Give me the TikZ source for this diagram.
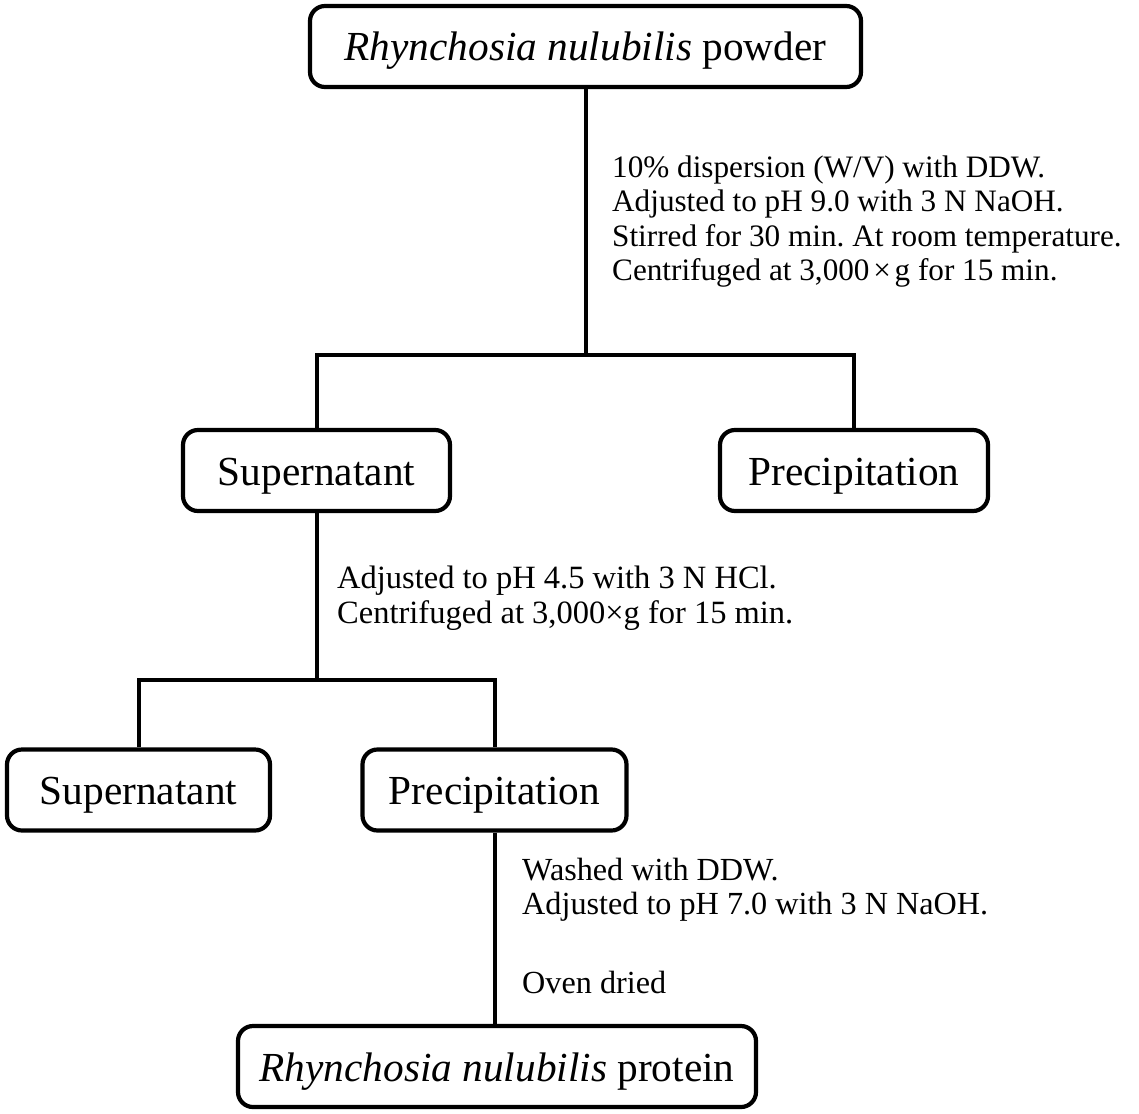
\documentclass[tikz,border=0pt]{standalone}
\usepackage{fontspec}
\setmainfont{Liberation Serif}
\frenchspacing
\begin{document}
\begin{tikzpicture}[x=1pt,y=-1pt,
  box/.style={draw=black,line width=4.2pt,rounded corners=15pt,fill=white,inner sep=0pt,
    minimum height=81pt,text height=29pt,text depth=0pt,font=\fontsize{41.3}{48}\selectfont},
  note/.style={anchor=base west,inner sep=0pt,font=\fontsize{31.2}{34.5}\selectfont},
  noteb/.style={note,font=\fontsize{32.5}{35}\selectfont},
  notec/.style={note,font=\fontsize{32.2}{35}\selectfont},
  link/.style={draw=black,line width=4pt,line join=miter}]
\useasboundingbox (0,0) rectangle (1139,1113);
\node[box,minimum width=551pt] (top) at (585.5,46.5) {\textit{Rhynchosia nulubilis} powder};
\node[box,minimum width=267pt] (sup1) at (316.5,470.5) {Supernatant};
\node[box,minimum width=268pt] (prec1) at (854,470.5) {Precipitation};
\node[box,minimum width=263pt] (sup2) at (138.5,790) {Supernatant};
\node[box,minimum width=264pt] (prec2) at (494.5,790) {Precipitation};
\node[box,minimum width=518pt] (bot) at (497,1066.5) {\textit{Rhynchosia nulubilis} protein};
\coordinate (j1) at (586,355);
\coordinate (j2) at (317,680);
\draw[link] (top.south -| j1) -- (j1);
\draw[link] (sup1.north -| j2) |- (j1) -| (prec1.north);
\draw[link] (sup1.south -| j2) -- (j2);
\draw[link] (sup2.north) |- (j2) -| (prec2.north);
\draw[link] (prec2.south) -- (prec2.south |- bot.north);
\node[note] (n1) at (612,177) {10\% dispersion (W/V) with DDW.};
\node[note] (n2) at (612,211.5) {Adjusted to pH 9.0 with 3 N NaOH.};
\node[note] (n3) at (612,246) {Stirred for 30 min. At room temperature.};
\node[note] (n4) at (612,280.5) {Centrifuged at 3,000\hspace{0.12em}×\hspace{0.12em}g for 15 min.};
\node[noteb] (n5) at (337,588) {Adjusted to pH 4.5 with 3 N HCl.};
\node[noteb] (n6) at (337,623) {Centrifuged at 3,000×g for 15 min.};
\node[notec] (n7) at (522,880) {Washed with DDW.};
\node[notec] (n8) at (522,914) {Adjusted to pH 7.0 with 3 N NaOH.};
\node[notec] (n9) at (522,993) {Oven dried};
\end{tikzpicture}
\end{document}
